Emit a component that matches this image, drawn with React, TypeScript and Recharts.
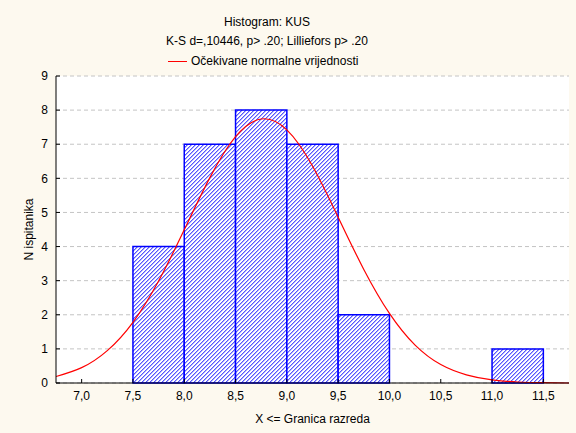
import React from 'react'
import { ComposedChart, Line, XAxis, YAxis, CartesianGrid, ReferenceArea } from 'recharts'

// class bounds (X <= upper bound) and counts
const binLow = [7.5, 8.0, 8.5, 9.0, 9.5, 11.0]
const binHigh = [8.0, 8.5, 9.0, 9.5, 10.0, 11.5]
const binCount = [4, 7, 8, 7, 2, 1]

// expected normal curve, sampled every 0.25
const curveX = [6.75, 7.0, 7.25, 7.5, 7.75, 8.0, 8.25, 8.5, 8.75, 9.0, 9.25, 9.5, 9.75, 10.0, 10.25, 10.5, 10.75, 11.0, 11.25, 11.5, 11.75]
const curveY = [0.19, 0.45, 0.95, 1.78, 2.99, 4.49, 6.02, 7.22, 7.74, 7.42, 6.36, 4.86, 3.33, 2.04, 1.11, 0.54, 0.24, 0.09, 0.03, 0.01, 0.0]

const xTicks = [7.0, 7.5, 8.0, 8.5, 9.0, 9.5, 10.0, 10.5, 11.0, 11.5]
const yTicks = [0, 1, 2, 3, 4, 5, 6, 7, 8, 9]

const curve = curveX.map((x, i) => ({ x, y: curveY[i] }))

const font = '"Liberation Sans", Arial, sans-serif'
const tickStyle = { fill: '#000', fontSize: 12, fontFamily: font }
const fmt = (v: number) => v.toFixed(1).replace('.', ',')

// pixel staircase for the "////" hatch
const hatchRows = [0, 1, 2, 3]

export default function App() {
  return (
    <div style={{ position: 'absolute', left: 0, top: 0, width: 576, height: 433, background: '#fdf9ef', fontFamily: font }}>
      <div style={{ position: 'absolute', top: 15, left: 0, width: 534, textAlign: 'center', fontSize: 12, color: '#000' }}>Histogram: KUS</div>
      <div style={{ position: 'absolute', top: 34, left: 0, width: 534, textAlign: 'center', fontSize: 12, color: '#000' }}>K-S d=,10446, p&gt; .20; Lilliefors p&gt; .20</div>
      <div style={{ position: 'absolute', top: 54, left: 168, fontSize: 12, color: '#000', display: 'flex', alignItems: 'center' }}>
        <span style={{ display: 'inline-block', width: 19, height: 1, background: '#ff0000', marginRight: 4 }} />
        Očekivane normalne vrijednosti
      </div>
      <ComposedChart width={576} height={433} data={curve} margin={{ top: 76, right: 7, bottom: 20, left: 16 }}>
        <defs>
          <pattern id="hatch" patternUnits="userSpaceOnUse" width="4" height="4">
            <rect width="4" height="4" fill="#ffffff" />
            {hatchRows.map((r) => (
              <g key={r} shapeRendering="crispEdges">
                <rect x={3 - r} y={r} width={1} height={1} fill="#5656ff" />
                <rect x={(4 - r) % 4} y={r} width={1} height={1} fill="#aeaeff" />
              </g>
            ))}
          </pattern>
        </defs>
        <CartesianGrid xAxisId="b" yAxisId="l" vertical={false} fill="#ffffff" stroke="#c4c4c4" strokeDasharray="4 3" />
        <XAxis
          xAxisId="b"
          dataKey="x"
          type="number"
          domain={[6.75, 11.75]}
          ticks={xTicks}
          tickFormatter={fmt}
          allowDataOverflow
          height={30}
          tick={tickStyle}
          tickSize={-4}
          tickMargin={12}
          axisLine={{ stroke: '#000' }}
          tickLine={{ stroke: '#000' }}
          label={{ value: 'X <= Granica razreda', position: 'bottom', offset: 1, style: { fill: '#000', fontSize: 12, fontFamily: font } }}
        />
        <XAxis
          xAxisId="t"
          orientation="top"
          dataKey="x"
          type="number"
          domain={[6.75, 11.75]}
          ticks={xTicks}
          allowDataOverflow
          height={0}
          tick={false}
          tickSize={-4}
          axisLine={{ stroke: '#000' }}
          tickLine={{ stroke: '#000' }}
        />
        <YAxis
          yAxisId="l"
          type="number"
          domain={[0, 9]}
          ticks={yTicks}
          width={40}
          tick={tickStyle}
          tickSize={-4}
          tickMargin={12}
          axisLine={{ stroke: '#000' }}
          tickLine={{ stroke: '#000' }}
          label={{ value: 'N ispitanika', angle: -90, position: 'insideLeft', offset: 13, style: { textAnchor: 'middle', fill: '#000', fontSize: 12, fontFamily: font } }}
        />
        <YAxis
          yAxisId="r"
          orientation="right"
          type="number"
          domain={[0, 9]}
          ticks={yTicks}
          width={0}
          tick={false}
          tickSize={-4}
          axisLine={{ stroke: '#000' }}
          tickLine={{ stroke: '#000' }}
        />
        {binCount.map((c, i) => (
          <ReferenceArea
            key={i}
            xAxisId="b"
            yAxisId="l"
            x1={binLow[i]}
            x2={binHigh[i]}
            y1={0}
            y2={c}
            fill="url(#hatch)"
            fillOpacity={1}
            stroke="#0000ff"
            strokeWidth={1.5}
          />
        ))}
        <Line
          xAxisId="b"
          yAxisId="l"
          dataKey="y"
          type="natural"
          stroke="#ff0000"
          strokeWidth={1.2}
          dot={false}
          activeDot={false}
          isAnimationActive={false}
        />
      </ComposedChart>
    </div>
  )
}
